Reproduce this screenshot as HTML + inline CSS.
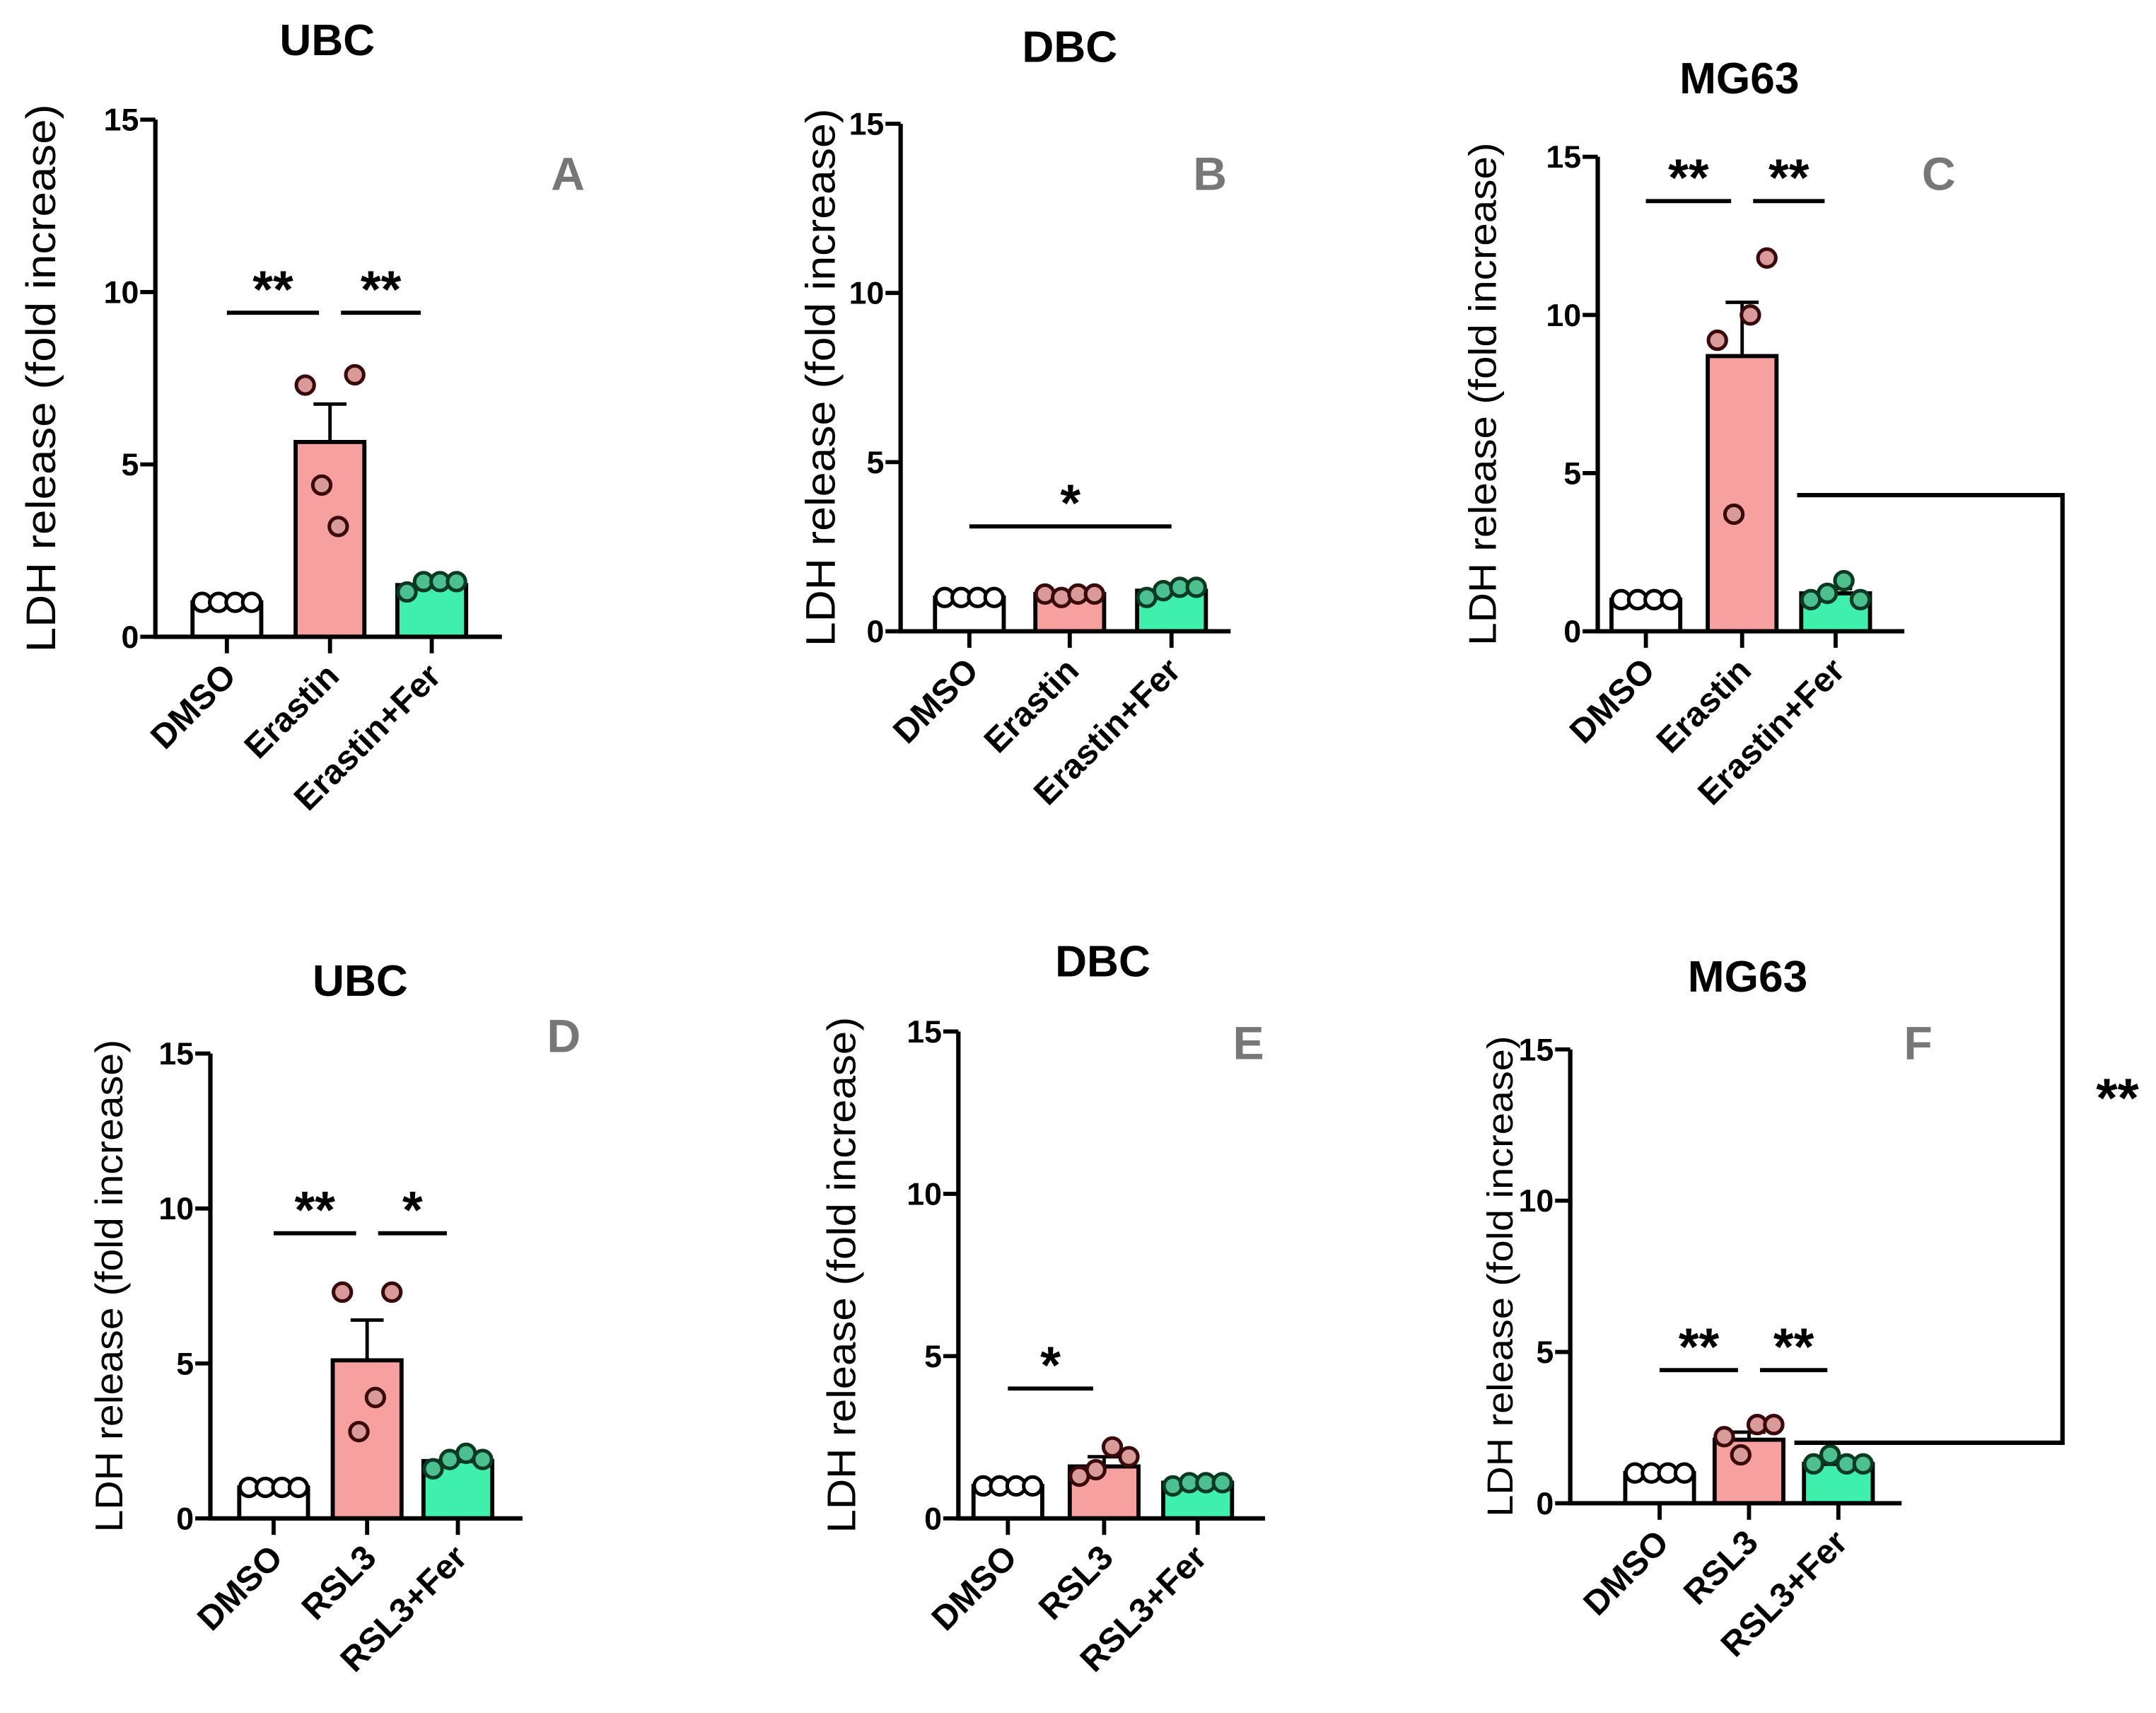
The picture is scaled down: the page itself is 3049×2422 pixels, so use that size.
<!DOCTYPE html>
<html><head><meta charset="utf-8"><style>
html,body{margin:0;padding:0;background:#fff;}
svg{display:block;}
text{font-family:"Liberation Sans",Arial,sans-serif;}
</style></head><body>
<svg id="fig" width="3049" height="2422" viewBox="0 0 1568 1245.5" preserveAspectRatio="none" xmlns="http://www.w3.org/2000/svg">
<g id="root"></g>
<g>
<polyline points="1307,360 1500,360 1500,1049 1305,1049" fill="none" stroke="#000" stroke-width="3.2"/>
<text x="1540" y="812" font-size="40" font-weight="bold" text-anchor="middle">**</text>
</g>
</svg>
<script>
const NS='http://www.w3.org/2000/svg';
// ---- data ----
const catsErastin=['DMSO','Erastin','Erastin+Fer'];
const catsRSL3=['DMSO','RSL3','RSL3+Fer'];
const yTicks=[0,5,10,15];
const titles=['UBC','DBC','MG63','UBC','DBC','MG63'];
const letters=['A','B','C','D','E','F'];
const meansA=[1.0,5.65,1.5]; const errA=[0,1.1,0.05];
const ptsA=[[1,1,1,1],[7.3,4.4,3.2,7.6],[1.3,1.6,1.6,1.6]];
const meansB=[1.0,1.1,1.2]; const errB=[0,0.03,0.05];
const ptsB=[[1,1,1,1],[1.1,1.0,1.1,1.1],[1.0,1.2,1.3,1.3]];
const meansC=[1.0,8.7,1.2]; const errC=[0,1.7,0.15];
const ptsC=[[1,1,1,1],[9.2,3.7,10.0,11.8],[1.0,1.2,1.6,1.0]];
const meansD=[1.0,5.1,1.85]; const errD=[0,1.3,0.1];
const ptsD=[[1,1,1,1],[7.3,2.8,3.9,7.3],[1.6,1.9,2.1,1.9]];
const meansE=[1.0,1.6,1.1]; const errE=[0,0.3,0.03];
const ptsE=[[1,1,1,1],[1.3,1.5,2.2,1.9],[1.0,1.1,1.1,1.1]];
const meansF=[1.0,2.1,1.3]; const errF=[0,0.25,0.1];
const ptsF=[[1,1,1,1],[2.2,1.6,2.6,2.6],[1.3,1.6,1.3,1.3]];
// significance: [fromIdx,toIdx,yValue,label]
const sigA=[[0,1,9.4,'**'],[1,2,9.4,'**']];
const sigB=[[0,2,3.1,'*']];
const sigC=[[0,1,13.6,'**'],[1,2,13.6,'**']];
const sigD=[[0,1,9.2,'**'],[1,2,9.2,'*']];
const sigE=[[0,1,4.0,'*']];
const sigF=[[0,1,4.4,'**'],[1,2,4.4,'**']];

const layouts=[
 {ax:113,y0:463,y15:87,cx:[165,240,314],xe:365,tx:238,ty:40,lx:413,ly:138,yl:40,fs:30},
 {ax:655,y0:459,y15:90,cx:[705,778,852],xe:895,tx:778,ty:45,lx:880,ly:138,yl:607,fs:30},
 {ax:1162,y0:459,y15:114,cx:[1197,1267,1335],xe:1385,tx:1265,ty:68,lx:1410,ly:138,yl:1088,fs:28},
 {ax:153,y0:1104,y15:766,cx:[199,267,333],xe:380,tx:262,ty:724,lx:410,ly:765,yl:89,fs:28},
 {ax:697,y0:1104,y15:750,cx:[733,803,871],xe:920,tx:802,ty:710,lx:908,ly:770,yl:622,fs:29},
 {ax:1142,y0:1093,y15:763,cx:[1207,1272,1337],xe:1383,tx:1271,ty:721,lx:1395,ly:770,yl:1100,fs:26}
];
const panels=[
 [catsErastin,meansA,errA,ptsA,sigA],[catsErastin,meansB,errB,ptsB,sigB],[catsErastin,meansC,errC,ptsC,sigC],
 [catsRSL3,meansD,errD,ptsD,sigD],[catsRSL3,meansE,errE,ptsE,sigE],[catsRSL3,meansF,errF,ptsF,sigF]
];
const fills=['#ffffff','#f6a19f','#3ff0ad'];
const ptFill=['#ffffff','#d99a9a','#4cc08e'];
const ptStroke=['#000','#3a0a0a','#0a3a22'];
const jit=[-18,-6,6,18];
function el(t,a,p){const e=document.createElementNS(NS,t);for(const k in a)e.setAttribute(k,a[k]);p.appendChild(e);return e;}
const root=document.getElementById('root');
panels.forEach((P,i)=>{
 const [cats,means,errs,pts,sigs]=P; const L=layouts[i];
 const y=v=>L.y0-(L.y15-L.y0)*-v/15;
 const g=el('g',{},root);
 
 
 const bw=50;
 means.forEach((m,j)=>{
  const r=el('rect',{x:L.cx[j]-bw/2,y:y(m),width:bw,height:L.y0-y(m),fill:fills[j],stroke:'#000','stroke-width':3},g);
  
  
  if(errs[j]>0){
   el('line',{x1:L.cx[j],x2:L.cx[j],y1:y(m),y2:y(m+errs[j]),stroke:'#000','stroke-width':2.5},g);
   el('line',{x1:L.cx[j]-12,x2:L.cx[j]+12,y1:y(m+errs[j]),y2:y(m+errs[j]),stroke:'#000','stroke-width':2.5},g);
  }
  pts[j].forEach((v,k)=>{
   const c=el('circle',{cx:L.cx[j]+jit[k],cy:y(v),r:6.5,fill:ptFill[j],stroke:ptStroke[j],'stroke-width':2.6},g);
   
   
  });
 });
 el('line',{x1:L.ax,x2:L.ax,y1:L.y15,y2:L.y0,stroke:'#000','stroke-width':3.2},g);
 el('line',{x1:L.ax-1.5,x2:L.xe,y1:L.y0,y2:L.y0,stroke:'#000','stroke-width':3.2},g);
 yTicks.forEach(t=>{
  el('line',{x1:L.ax-11,x2:L.ax,y1:y(t),y2:y(t),stroke:'#000','stroke-width':3},g);
  const tx=el('text',{x:L.ax-12,y:y(t)+8,'font-size':23,'font-weight':'bold','text-anchor':'end'},g);
  tx.textContent=t;
  
  
 });
 cats.forEach((c,j)=>{
  el('line',{x1:L.cx[j],x2:L.cx[j],y1:L.y0,y2:L.y0+12,stroke:'#000','stroke-width':3},g);
  const tx=el('text',{x:L.cx[j]+8,y:L.y0+30,'font-size':25,'font-weight':'bold','text-anchor':'end',transform:`rotate(-45 ${L.cx[j]+8} ${L.y0+30})`},g);
  tx.textContent=c;
  
  
 });
 const ym=(L.y0+L.y15)/2;
 const yl=el('text',{x:L.yl,y:ym,'font-size':L.fs,'text-anchor':'middle',transform:`rotate(-90 ${L.yl} ${ym})`,textLength:Math.min(400,(L.y0-L.y15)*1.06),lengthAdjust:'spacingAndGlyphs'},g);
 yl.textContent='LDH release (fold increase)';
 
 
 const tt=el('text',{x:L.tx,y:L.ty,'font-size':32,'font-weight':'bold','text-anchor':'middle'},g);
 tt.textContent=titles[i];
 
 
 const lt=el('text',{x:L.lx,y:L.ly,'font-size':34,'font-weight':'bold','text-anchor':'middle',fill:'#777'},g);
 lt.textContent=letters[i];
 
 
 sigs.forEach(s=>{
  const x1=L.cx[s[0]]+(s[0]>0?8:0), x2=L.cx[s[1]]-(s[1]-s[0]==1?8:0);
  el('line',{x1:x1,x2:x2,y1:y(s[2]),y2:y(s[2]),stroke:'#000','stroke-width':3},g);
  const st=el('text',{x:(x1+x2)/2,y:y(s[2])-4,'font-size':38,'font-weight':'bold','text-anchor':'middle'},g);
  st.textContent=s[3];
  
  
 });
});
</script>
</body></html>
